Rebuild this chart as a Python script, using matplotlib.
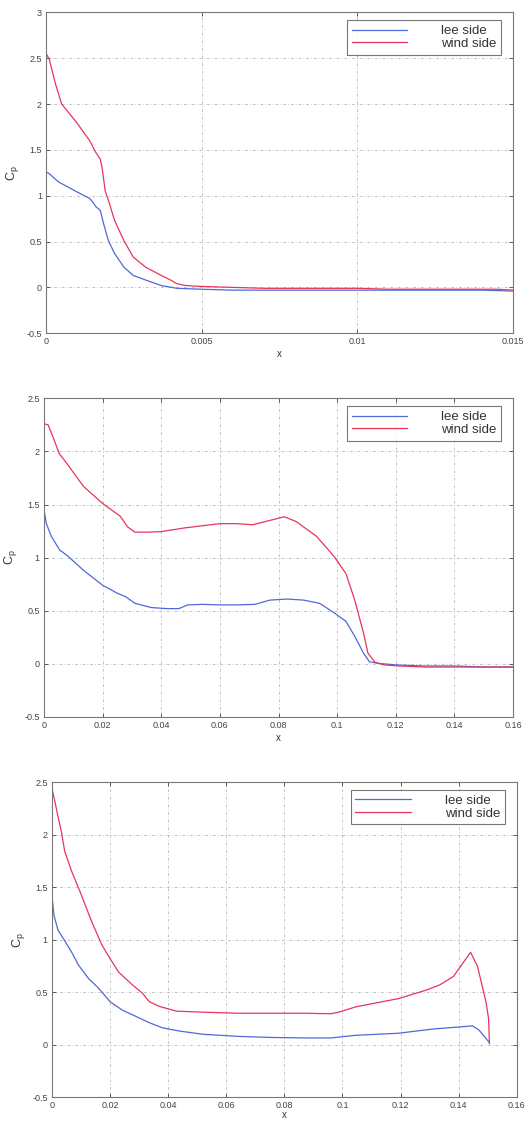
import matplotlib

# Use non-GUI backend
matplotlib.use('Agg')

import matplotlib.pyplot as plt
from matplotlib.ticker import FuncFormatter

plt.rcParams['font.family'] = ['Liberation Sans', 'DejaVu Sans']

# -----------------------------
# DATA
# -----------------------------

# Panel 1
x1_lee = [0, 0.0001, 0.0004, 0.001, 0.0014, 0.0015, 0.0016, 0.00174, 0.00185, 0.002,
          0.0022, 0.0025, 0.0028, 0.0032, 0.0037, 0.0042, 0.005, 0.006, 0.008, 0.01,
          0.012, 0.014, 0.015]
cp1_lee = [1.26, 1.24, 1.15, 1.04, 0.97, 0.93, 0.88, 0.84, 0.69, 0.51,
           0.37, 0.22, 0.13, 0.08, 0.02, -0.01, -0.02, -0.03, -0.03, -0.03,
           -0.03, -0.03, -0.04]
x1_wind = [0, 0.0001, 0.0003, 0.0005, 0.001, 0.0014, 0.0016, 0.00174, 0.0018, 0.0019,
           0.002, 0.0022, 0.0025, 0.0028, 0.0032, 0.0037, 0.004, 0.0042, 0.0045, 0.005,
           0.006, 0.007, 0.008, 0.009, 0.01, 0.011, 0.012, 0.013, 0.014, 0.0145, 0.015]
cp1_wind = [2.55, 2.49, 2.22, 2.0, 1.79, 1.6, 1.47, 1.40, 1.30, 1.05,
            0.95, 0.73, 0.51, 0.33, 0.22, 0.13, 0.08, 0.04, 0.02, 0.01,
            0.0, -0.01, -0.01, -0.01, -0.01, -0.02, -0.02, -0.02, -0.02, -0.02, -0.03]

# Panel 2
x2_lee = [0, 0.0008, 0.0025, 0.0054, 0.0077, 0.0135, 0.02, 0.025, 0.028, 0.031,
          0.0366, 0.042, 0.046, 0.049, 0.054, 0.06, 0.0655, 0.072, 0.077, 0.083,
          0.0886, 0.094, 0.099, 0.103, 0.106, 0.109, 0.111, 0.114, 0.12, 0.13,
          0.14, 0.15, 0.16]
cp2_lee = [1.45, 1.32, 1.2, 1.07, 1.025, 0.88, 0.74, 0.665, 0.63, 0.57,
           0.53, 0.52, 0.52, 0.555, 0.56, 0.555, 0.555, 0.56, 0.6, 0.61,
           0.6, 0.57, 0.48, 0.4, 0.26, 0.1, 0.02, 0.005, -0.01, -0.02,
           -0.02, -0.03, -0.03]
x2_wind = [0, 0.0014, 0.003, 0.0052, 0.0077, 0.0135, 0.02, 0.026, 0.0285, 0.031,
           0.0355, 0.04, 0.048, 0.06, 0.0655, 0.0712, 0.077, 0.082, 0.086, 0.093,
           0.099, 0.103, 0.106, 0.109, 0.1105, 0.113, 0.116, 0.121, 0.13, 0.14,
           0.15, 0.16]
cp2_wind = [2.26, 2.25, 2.14, 1.98, 1.89, 1.67, 1.51, 1.39, 1.29, 1.24,
            1.24, 1.245, 1.28, 1.32, 1.32, 1.31, 1.35, 1.385, 1.34, 1.2,
            1.01, 0.85, 0.6, 0.29, 0.1, 0.013, -0.01, -0.02, -0.03, -0.03,
            -0.03, -0.03]

# Panel 3
x3_lee = [0, 0.0007, 0.0021, 0.0044, 0.0068, 0.0091, 0.0126, 0.016, 0.02, 0.0242,
          0.0289, 0.0335, 0.0382, 0.044, 0.052, 0.064, 0.075, 0.087, 0.096, 0.1045,
          0.1194, 0.1312, 0.1406, 0.1447, 0.147, 0.1506]
cp3_lee = [1.42, 1.23, 1.09, 0.99, 0.88, 0.76, 0.63, 0.54, 0.41, 0.33,
           0.27, 0.21, 0.16, 0.13, 0.10, 0.08, 0.07, 0.065, 0.065, 0.09,
           0.11, 0.15, 0.17, 0.18, 0.14, 0.02]
x3_wind = [0, 0.0009, 0.0021, 0.0033, 0.0044, 0.0068, 0.0102, 0.0137, 0.0172, 0.02,
           0.023, 0.0277, 0.0312, 0.0335, 0.037, 0.0428, 0.052, 0.064, 0.075, 0.087,
           0.096, 0.0987, 0.1045, 0.11, 0.1194, 0.1288, 0.1335, 0.1382, 0.1441, 0.1465,
           0.1494, 0.1503, 0.1506]
cp3_wind = [2.44, 2.33, 2.17, 2.02, 1.84, 1.65, 1.42, 1.17, 0.95, 0.82,
            0.69, 0.57, 0.49, 0.41, 0.365, 0.32, 0.31, 0.30, 0.30, 0.30,
            0.295, 0.31, 0.36, 0.39, 0.44, 0.52, 0.57, 0.65, 0.88, 0.745,
            0.41, 0.25, 0.01]

panels = [
    (x1_lee, cp1_lee, x1_wind, cp1_wind, [0, 0.005, 0.01, 0.015], (-0.5, 3)),
    (x2_lee, cp2_lee, x2_wind, cp2_wind, [0, 0.02, 0.04, 0.06, 0.08, 0.1, 0.12, 0.14, 0.16], (-0.5, 2.5)),
    (x3_lee, cp3_lee, x3_wind, cp3_wind, [0, 0.02, 0.04, 0.06, 0.08, 0.1, 0.12, 0.14, 0.16], (-0.5, 2.5)),
]

# axes rectangles in figure fractions (left, bottom, width, height)
rects = [
    [0.087, 0.703, 0.881, 0.286],
    [0.083, 0.361, 0.885, 0.284],
    [0.098, 0.022, 0.877, 0.281],
]
xlabel_pads = [2, 2, 0]

LEE = '#5068d8'
WIND = '#e8345c'

fig = plt.figure(figsize=(5.3, 11.22), dpi=100)
fmt = FuncFormatter(lambda v, p: '%g' % round(v, 6))

for (xl, yl, xw, yw, xt, ylim), rect, lpad in zip(panels, rects, xlabel_pads):
    ax = fig.add_axes(rect)
    ax.plot(xl, yl, color=LEE, lw=0.9, label='lee side')
    ax.plot(xw, yw, color=WIND, lw=0.9, label='wind side')

    ax.set_xlim(xt[0], xt[-1])
    ax.set_ylim(*ylim)
    ax.set_xticks(xt)
    y0, y1 = ylim
    yt = [y0 + 0.5 * i for i in range(int(round((y1 - y0) / 0.5)) + 1)]
    ax.set_yticks(yt)
    ax.xaxis.set_major_formatter(fmt)
    ax.yaxis.set_major_formatter(fmt)

    ax.tick_params(direction='in', length=3, width=0.6, labelsize=6.5,
                   top=True, right=True, colors='#444444', pad=3)
    for s in ax.spines.values():
        s.set_color('#777777')
        s.set_linewidth(0.8)

    ax.grid(True, color='#aaaaaa', linestyle=(0, (4, 3, 1, 3)), linewidth=0.5)

    ax.set_xlabel('x', fontsize=7, labelpad=lpad, color='#333333')
    ax.set_ylabel('C$_\\mathregular{p}$', fontsize=9, labelpad=4, color='#333333')

    leg = ax.legend(loc='upper right', bbox_to_anchor=(0.975, 0.975),
                    fontsize=9.5, frameon=True, fancybox=False,
                    handlelength=4.2, handletextpad=2.6, borderpad=0.35,
                    labelspacing=0.05, borderaxespad=0)
    leg.get_frame().set_edgecolor('#555555')
    leg.get_frame().set_linewidth(0.8)
    for t in leg.get_texts():
        t.set_color('#333333')

plt.savefig('out.png', dpi=100)
plt.close()
